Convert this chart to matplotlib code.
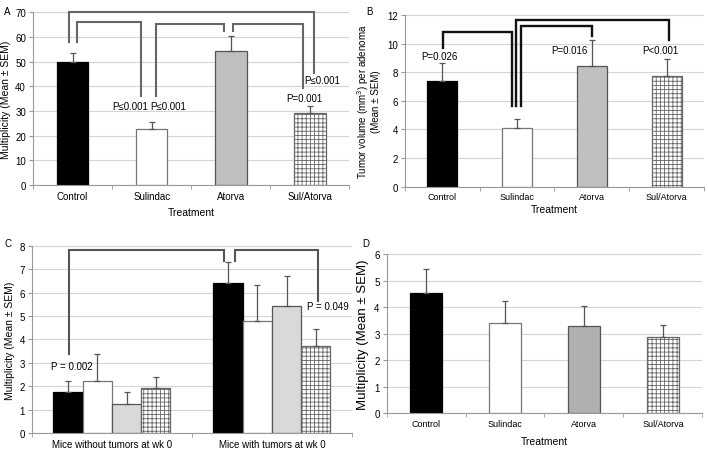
import matplotlib
matplotlib.use("Agg")
import matplotlib.pyplot as plt
import numpy as np

plt.rcParams['font.family'] = ['Liberation Sans', 'DejaVu Sans']
plt.rcParams['hatch.linewidth'] = 0.6
plt.rcParams['hatch.color'] = '#666666'

treatments = ["Control", "Sulindac", "Atorva", "Sul/Atorva"]

# panel A - multiplicity
a_mean = [50.0, 22.8, 54.5, 29.3]
a_sem = [3.5, 2.7, 5.8, 2.7]

# panel B - tumor volume per adenoma
b_mean = [7.41, 4.13, 8.42, 7.73]
b_sem = [1.22, 0.6, 1.82, 1.17]

# panel C - by tumor status at wk 0
c_groups = ["Mice without tumors at wk 0", "Mice with tumors at wk 0"]
c_mean = [[1.77, 6.42], [2.22, 4.8], [1.25, 5.42], [1.91, 3.72]]
c_sem = [[0.48, 0.9], [1.18, 1.54], [0.49, 1.3], [0.5, 0.71]]

# panel D - multiplicity
d_mean = [4.53, 3.39, 3.31, 2.86]
d_sem = [0.9, 0.84, 0.75, 0.47]

# bar styles per treatment: face, edge, hatch
styles = [("black", "black", None), ("white", "#777777", None),
          (None, "#555555", None), ("white", "#666666", "++++")]


def style_axes(ax, ymax, ystep, ncat):
    ax.set_ylim(0, ymax)
    ax.set_yticks(np.arange(0, ymax + 0.01, ystep))
    ax.set_xlim(-0.5, ncat - 0.5)
    ax.yaxis.grid(True, color="#d4d4d4", lw=0.8)
    ax.set_axisbelow(True)
    for s in ["top", "right"]:
        ax.spines[s].set_visible(False)
    for s in ["left", "bottom"]:
        ax.spines[s].set_color("#999999")
        ax.spines[s].set_linewidth(0.8)
    ax.tick_params(axis="y", length=3, color="#999999", labelsize=7, pad=2)
    ax.tick_params(axis="x", length=0, labelsize=7, pad=4)
    ax.set_xticks(np.arange(-0.5, ncat), minor=True)
    ax.tick_params(axis="x", which="minor", length=3, color="#999999")


def draw_bars(ax, x, means, sems, width, gray):
    for i in range(len(means)):
        face, edge, hatch = styles[i]
        if face is None:
            face = gray
        ax.bar(x[i], means[i], width, color=face, edgecolor=edge,
               hatch=hatch, linewidth=0.9, zorder=2)
        ax.errorbar(x[i], means[i], yerr=[[0], [sems[i]]], fmt="none",
                    ecolor="#555555", elinewidth=0.9, capsize=2, capthick=0.9,
                    zorder=3)


def bracket(ax, x1, x2, y1, ytop, y2, color, lw):
    ax.plot([x1, x1, x2, x2], [y1, ytop, ytop, y2], color=color, lw=lw,
            solid_joinstyle="miter", zorder=4, clip_on=False)


fig = plt.figure(figsize=(7.08, 4.52), dpi=100)

# ---- A
axA = fig.add_axes([0.0466, 0.5885, 0.447, 0.382])
x = np.arange(4)
style_axes(axA, 70, 10, 4)
draw_bars(axA, x, a_mean, a_sem, 0.4, "#bfbfbf")
axA.set_xticks(x)
axA.set_xticklabels(treatments)
axA.set_ylabel("Multiplicity (Mean \u00b1 SEM)", fontsize=7.5, labelpad=3)
axA.set_xlabel("Treatment", fontsize=7.5, labelpad=5)
ca = "#666666"
bracket(axA, -0.05, 3.05, 58, 70.2, 45.4, ca, 1.5)
bracket(axA, 0.06, 0.87, 58, 65.9, 36.2, ca, 1.5)
bracket(axA, 1.05, 1.91, 36.2, 65.3, 62.6, ca, 1.5)
bracket(axA, 2.03, 2.91, 62.6, 65.3, 39.2, ca, 1.5)
axA.text(0.73, 31.9, "P\u22640.001", fontsize=7, ha="center", va="center")
axA.text(1.21, 31.9, "P\u22640.001", fontsize=7, ha="center", va="center")
axA.text(2.93, 35.3, "P=0.001", fontsize=7, ha="center", va="center")
axA.text(3.16, 42.6, "P\u22640.001", fontsize=7, ha="center", va="center")

# ---- B
axB = fig.add_axes([0.5716, 0.5847, 0.423, 0.38])
style_axes(axB, 12, 2, 4)
draw_bars(axB, x, b_mean, b_sem, 0.4, "#c0c0c0")
axB.set_xticks(x)
axB.set_xticklabels(treatments, fontsize=6.5)
axB.set_ylabel("Tumor volume (mm$^3$) per adenoma\n(Mean \u00b1 SEM)",
               fontsize=7, labelpad=4, linespacing=1.1)
axB.set_xlabel("Treatment", fontsize=7.5, labelpad=2)
cb = "#111111"
bracket(axB, 0.01, 0.93, 9.67, 10.79, 5.62, cb, 1.7)
bracket(axB, 0.99, 3.03, 5.62, 11.65, 10.28, cb, 1.7)
bracket(axB, 1.05, 2.0, 5.62, 11.21, 10.51, cb, 1.7)
axB.text(-0.04, 9.1, "P=0.026", fontsize=7, ha="center", va="center")
axB.text(1.7, 9.58, "P=0.016", fontsize=7, ha="center", va="center")
axB.text(2.92, 9.58, "P<0.001", fontsize=7, ha="center", va="center")

# ---- C
axC = fig.add_axes([0.045, 0.0392, 0.452, 0.415])
style_axes(axC, 8, 1, 2)
w = 0.183
xg = np.arange(2)
for i in range(4):
    xb = xg + (i - 1.5) * w
    face, edge, hatch = styles[i]
    if face is None:
        face = "#d9d9d9"
    axC.bar(xb, c_mean[i], w, color=face, edgecolor=edge,
            hatch=hatch, linewidth=0.9, zorder=2)
    axC.errorbar(xb, c_mean[i], yerr=[[0, 0], c_sem[i]], fmt="none",
                 ecolor="#555555", elinewidth=0.9, capsize=2, capthick=0.9,
                 zorder=3)
axC.set_xticks(xg)
axC.set_xticklabels(c_groups, fontsize=7)
axC.set_ylabel("Multiplicity (Mean \u00b1 SEM)", fontsize=7.5, labelpad=3)
cc = "#555555"
bracket(axC, -0.27, 0.7, 3.4, 7.82, 7.34, cc, 1.5)
bracket(axC, 0.77, 1.29, 7.34, 7.82, 5.65, cc, 1.5)
axC.text(-0.25, 2.87, "P = 0.002", fontsize=7, ha="center", va="center")
axC.text(1.35, 5.44, "P = 0.049", fontsize=7, ha="center", va="center")

# ---- D
axD = fig.add_axes([0.546, 0.0834, 0.446, 0.352])
style_axes(axD, 6, 1, 4)
draw_bars(axD, x, d_mean, d_sem, 0.4, "#b0b0b0")
axD.set_xticks(x)
axD.set_xticklabels(treatments, fontsize=6.5)
axD.set_ylabel("Multiplicity (Mean \u00b1 SEM)", fontsize=9.5, labelpad=4)
axD.set_xlabel("Treatment", fontsize=7.5, labelpad=6)

fig.text(0.006, 0.985, "A", fontsize=7, va="top")
fig.text(0.518, 0.985, "B", fontsize=7, va="top")
fig.text(0.006, 0.472, "C", fontsize=7, va="top")
fig.text(0.511, 0.472, "D", fontsize=7, va="top")

fig.savefig("out.png", dpi=100)
